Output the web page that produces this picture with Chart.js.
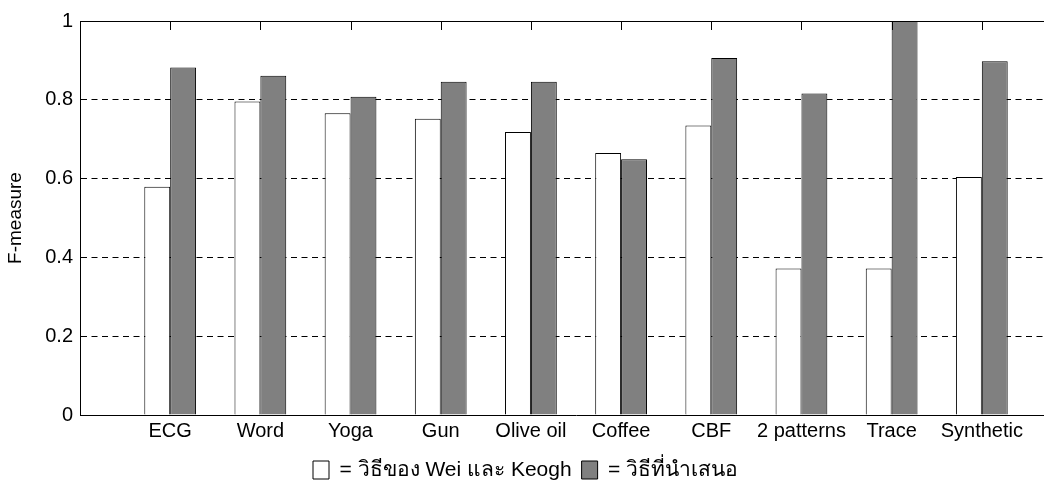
<!DOCTYPE html>
<html>
<head>
<meta charset="utf-8">
<script src="https://cdn.jsdelivr.net/npm/chart.js@4.4.1/dist/chart.umd.min.js"></script>
<style>
  html, body { margin: 0; padding: 0; background: #fff; overflow: hidden; }
  #wrap { width: 1080px; height: 483px; }
</style>
</head>
<body>
<div id="wrap"><canvas id="c" width="1080" height="483"></canvas></div>
<script>
// Datasets and their F-measure scores
const categories = ['ECG', 'Word', 'Yoga', 'Gun', 'Olive oil', 'Coffee', 'CBF', '2 patterns', 'Trace', 'Synthetic'];
const weiKeogh = [0.579, 0.796, 0.766, 0.752, 0.718, 0.665, 0.735, 0.372, 0.372, 0.604];
const proposed = [0.882, 0.861, 0.808, 0.846, 0.846, 0.649, 0.906, 0.816, 1.0, 0.898];
const yTickLabels = ['0', '0.2', '0.4', '0.6', '0.8', '1'];
const seriesNames = ['= วิธีของ Wei และ Keogh', '= วิธีที่นำเสนอ'];

const FONT = '"Liberation Sans", Arial, sans-serif';

// Frame line along the top of the plot with inward tick marks at each category
const framePlugin = {
  id: 'frame',
  afterDatasetsDraw(chart) {
    const { ctx, chartArea: a, scales: { x } } = chart;
    ctx.save();
    ctx.strokeStyle = '#000';
    ctx.lineWidth = 1;
    ctx.beginPath();
    ctx.moveTo(a.left, a.top + 0.5);
    ctx.lineTo(a.right, a.top + 0.5);
    categories.forEach((_, i) => {
      const px = Math.round(x.getPixelForValue(i + 1)) + 0.5;
      ctx.moveTo(px, a.top);
      ctx.lineTo(px, a.top + 9);
    });
    ctx.stroke();
    ctx.restore();
  }
};

// Place the legend row centred under the visible page width
const legendPlace = {
  id: 'legendPlace',
  afterLayout(chart) {
    const lg = chart.legend;
    if (!lg) return;
    const pad = lg.options.labels.padding;
    lg.left = 313 - pad;
    lg.top = 459.5 - pad;
  }
};

const toPoints = arr => arr.map((v, i) => ({ x: i + 1, y: v }));

new Chart(document.getElementById('c'), {
  type: 'bar',
  data: {
    datasets: [
      {
        label: seriesNames[0],
        data: toPoints(weiKeogh),
        backgroundColor: '#ffffff',
        borderColor: '#000',
        borderWidth: 1,
        categoryPercentage: 0.574,
        barPercentage: 1.0
      },
      {
        label: seriesNames[1],
        data: toPoints(proposed),
        backgroundColor: '#808080',
        borderColor: '#000',
        borderWidth: 1,
        categoryPercentage: 0.574,
        barPercentage: 1.0
      }
    ]
  },
  options: {
    responsive: false,
    animation: false,
    devicePixelRatio: 1,
    layout: { padding: { top: 21, right: 8, bottom: 0, left: 0 } },
    plugins: {
      tooltip: { enabled: false },
      legend: {
        position: 'bottom',
        align: 'start',
        labels: {
          boxWidth: 16,
          boxHeight: 18,
          padding: 10,
          color: '#000',
          font: { family: FONT, size: 21 },
          generateLabels(chart) {
            return chart.data.datasets.map((ds, i) => ({
              text: ds.label,
              fillStyle: ds.backgroundColor,
              strokeStyle: '#000',
              lineWidth: 1,
              datasetIndex: i,
              fontColor: '#000'
            }));
          }
        }
      }
    },
    scales: {
      x: {
        type: 'linear',
        min: 0,
        max: categories.length + 1,
        offset: false,
        grid: { display: false, drawTicks: false },
        border: { display: true, color: '#000', width: 1 },
        afterFit(scale) { scale.height = 27; },
        afterBuildTicks(scale) {
          const t = [];
          for (let i = 0; i <= categories.length + 1; i++) t.push({ value: i });
          scale.ticks = t;
        },
        ticks: {
          autoSkip: false,
          maxRotation: 0,
          padding: 4,
          color: '#000',
          font: { family: FONT, size: 20 },
          callback: v => categories[v - 1] || ''
        }
      },
      y: {
        min: 0,
        max: 1,
        afterFit(scale) { scale.width = 80; },
        afterBuildTicks(scale) {
          scale.ticks = yTickLabels.map(s => ({ value: parseFloat(s) }));
        },
        grid: {
          drawTicks: false,
          color: ctx => (ctx.tick && (ctx.tick.value === 0 || ctx.tick.value === 1)) ? 'rgba(0,0,0,0)' : '#000',
          lineWidth: 1
        },
        border: { display: true, color: '#000', width: 1, dash: [6, 4.5] },
        ticks: {
          padding: 7,
          color: '#000',
          font: { family: FONT, size: 20 },
          callback: (v, i) => yTickLabels[i]
        },
        title: {
          display: true,
          text: 'F-measure',
          color: '#000',
          font: { family: FONT, size: 19 },
          padding: { top: 4, bottom: 0 }
        }
      }
    }
  },
  plugins: [framePlugin, legendPlace]
});
</script>
</body>
</html>
